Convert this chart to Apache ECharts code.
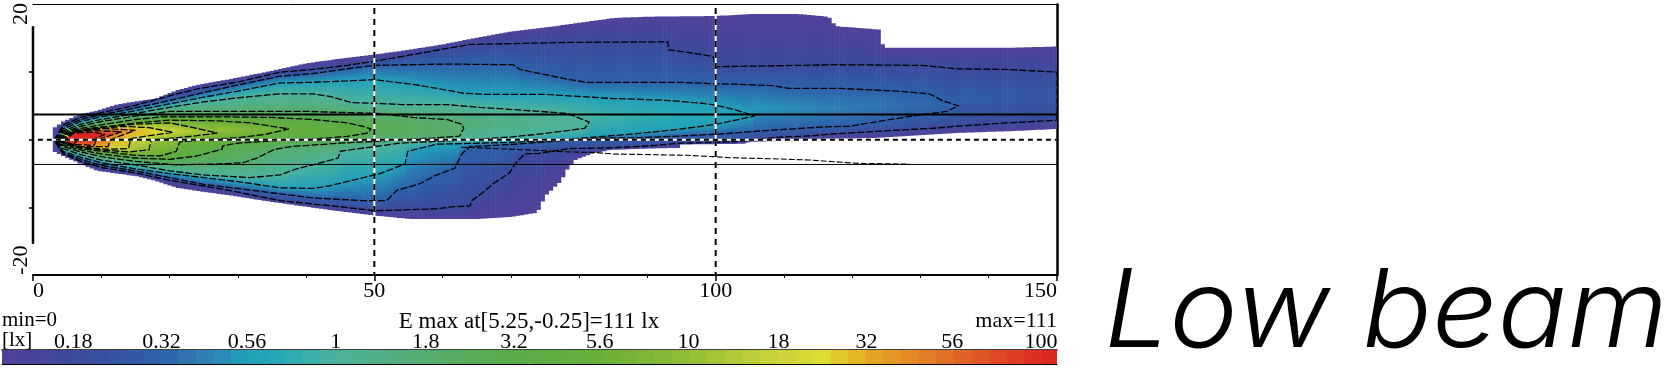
<!DOCTYPE html>
<html>
<head>
<meta charset="utf-8">
<style>html,body{margin:0;padding:0;background:#fff}#c{width:1670px;height:383px}</style>
<script src="https://cdn.jsdelivr.net/npm/echarts@6/dist/echarts.min.js"></script>
</head>
<body>
<div id="c"></div>
<script>
const xTickLabels = [0, 50, 100, 150];
const yTickLabels = ['20', '-20'];
const scaleLabels = ['0.18','0.32','0.56','1','1.8','3.2','5.6','10','18','32','56','100'];
const scaleValues = [0.18,0.32,0.56,1,1.8,3.2,5.6,10,18,32,56,100];
const scaleMin = 0.113, scaleMax = 111;
const colorValues = [0.113,0.18,0.32,0.42,0.56,0.7,1,1.8,3.2,5.6,10,18,24,32,56,100,111];
const colorHex = ['#50419a','#3c4a9c','#2e60a9','#2f7fb5','#22a0ba','#25a9b5','#4cb29c','#55ad6e','#5aab48','#68af38','#92bd36','#ccd43a','#dddc32','#e7aa24','#e06a26','#dd2a22','#dc2620'];

// boundary of the coloured area
const edgeTop = [[2.9,0],[3,1.7],[4.4,2.7],[7,3.8],[9.4,4.3],[12.3,5.2],[15.2,5.7],[18,6.1],[21,7.3],[24,8.1],[29,9],[34,10],[40,11.3],[45,12],[50,12.6],[55,13.3],[60,14.1],[65,15.1],[70,16],[75,16.6],[80,17.3],[85,18],[90,18.2],[100,18.3],[105,18.6],[112,18.6],[116.5,18.2],[117.5,16.8],[124,16.3],[124.5,13.6],[143,13.6],[150,13.8]];
const edgeBot = [[2.9,0],[3,-1.7],[4.4,-2.4],[7,-3.6],[9.4,-4.6],[12.3,-5],[15.2,-5.4],[18,-6.1],[21,-7.1],[25,-7.7],[30,-8.4],[35,-9.2],[40,-9.9],[45,-10.6],[50,-11.2],[55,-11.7],[65,-11.7],[70,-11.4],[73.8,-10.8],[75,-8.3],[77.3,-6.1],[78.3,-4.2],[79.5,-2.9],[82,-2],[84.5,-1.5],[90,-1.3],[94.5,-1.2],[95,-.7],[104,-.6],[105,-.3],[112.6,-.1],[114,.1],[123,.25],[135,1],[143.8,1.3],[150,1.6]];

// iso-lux contours: [distance, height]
const lx018Top = [[3.1,-.1],[4.4,2.2],[7,3.3],[10,4.0],[15,5.1],[20,6.5],[23.9,7.5],[30.3,8.6],[36.2,10],[41,10.4],[46,11],[50,11.6],[64,14.1],[78.6,14.4],[93,14.5],[93.1,13.3],[96.2,12.9],[99.6,12.3],[100,10.8],[117.9,11.1],[130.3,11],[135.3,10.5],[142.6,10.4],[150,10]];
const lx018Bot = [[3.1,-.1],[4.4,-2.1],[7,-3.2],[10,-4.1],[15,-4.9],[20,-6],[28.8,-7.5],[36.2,-9],[41,-9.5],[45,-9.9],[50,-10.5],[53.7,-10.4],[59.2,-10.2],[61.5,-9.9],[64,-9.8],[64.3,-9],[65.9,-7.8],[67.4,-6.5],[69.8,-4.9],[70.6,-3.6],[72,-2.1],[74.2,-2],[78.6,-1.3],[84.5,-1.2],[90.3,-.9],[94.7,-.5],[99.6,-.4],[103.8,-.2],[109.4,.4],[112.7,.5],[117,.85],[124.5,1.3],[131.8,1.7],[135.3,2],[142,2.45],[150,2.9]];
const lx032Top = [[3.2,-.1],[4.4,1.9],[7,3],[10,3.7],[15,4.7],[20,5.8],[25,7],[30,8.1],[36.2,9.4],[41,9.8],[46,10.5],[50,11],[60.6,11.2],[70.3,11.1],[71.3,10.4],[78.6,8.9],[81.1,8.5],[94.7,8.5],[99.6,8.3],[103.5,8.2],[108.3,8],[110.8,7.6],[118.2,7.6],[126.5,7.2],[131.3,6.8],[133.2,5.8],[135.6,5]];
const lx032Bot = [[3.2,-.1],[4.4,-1.9],[7,-2.9],[10,-3.8],[15,-4.6],[20,-5.6],[25,-6.6],[30,-7.2],[36.2,-8],[41,-8.6],[48.3,-9],[51.8,-9],[53.3,-7.5],[56.7,-6.5],[58.9,-5.3],[61.8,-4.2],[62.8,-2.1],[64,-1],[70,-.7],[78.6,-.05],[83,.25],[88.9,.3],[94.7,.55],[100.6,.85],[107.9,1.4],[115.7,1.9],[119.6,2],[125,2.9],[129.4,3.6],[132.4,4],[133.8,4.2],[135.6,5]];
const lx056Top = [[3.3,-.1],[4.4,1.6],[7,2.7],[10,3.4],[15,4.3],[20,5.3],[25,6.3],[30,7.2],[36.2,8.4],[41,8.5],[46,8.7],[50,8.9],[52.3,8.6],[55.6,8.2],[59.2,7.6],[63,6.9],[66.5,6.7],[75.3,6.7],[80,6.4],[84.9,6.1],[88.4,6],[93.3,5.8],[98,5.4],[100.1,5.1],[103,4.4],[105.7,3.5]];
const lx056Bot = [[3.3,-.1],[4.4,-1.7],[7,-2.6],[10,-3.4],[15,-4.3],[20,-5],[25,-5.6],[30,-6.2],[36.2,-7.1],[41,-7.2],[43.5,-6.8],[50.8,-5],[54.5,-3.6],[54.9,-1.7],[59.2,-.65],[70,-.4],[78.6,.1],[83.5,.5],[88.4,.9],[93.3,1.4],[98,2],[100.1,2.3],[105.7,3.5]];
const lx1Top = [[3.4,-.1],[4.4,1.3],[7,2.3],[10,3],[15,3.9],[20,4.8],[25,5.6],[30,6.2],[36.2,6.8],[41,6.8],[43.5,6.4],[46.7,5.5],[50,5.4],[54.2,5.2],[60.6,5.2],[65.4,4.8],[74.2,4.2],[78.2,3.9],[79.5,3.4],[81.5,2.6]];
const lx1Bot = [[3.4,-.1],[4.4,-1.3],[7,-2.2],[10,-3],[15,-3.7],[20,-4.6],[25,-5.2],[31.8,-5.6],[36.2,-5.2],[38.6,-4.3],[41,-3.7],[44.7,-2.7],[45,-1.7],[53.7,-.5],[60,-.2],[65.4,.1],[69.8,.4],[74.2,.85],[78.6,1.4],[80.8,1.7],[81.5,2.6]];
const lx1_8Top = [[3.5,-.1],[4.4,1.1],[7,2],[10,2.7],[15,3.5],[20,4.2],[36.2,4.2],[40,4.2],[50.4,3.9],[55.6,3.3],[60.6,3],[62.8,2.3],[63.1,1.7]];
const lx1_8Bot = [[3.5,-.1],[4.4,-1],[7,-1.8],[10,-2.5],[15,-3.2],[21,-3.7],[26.5,-3.6],[30.7,-3.4],[32.8,-2.7],[35.4,-1.4],[38,-1],[45,-.5],[50.8,-.2],[53.3,0],[58.6,.25],[62.5,.55],[63.1,1.7]];
const lx3_2Top = [[3.6,-.1],[4.4,.9],[7,1.7],[10,2.2],[15,3],[19,3.4],[27.5,3.4],[35,3.3],[41,3],[46,2.5],[48.3,2],[49.5,1.6]];
const lx3_2Bot = [[3.6,-.1],[4.4,-.8],[7,-1.5],[10,-2.1],[15,-2.7],[20,-2.9],[24,-2.4],[27.7,-1.4],[27.8,-.9],[30,-.5],[36,-.1],[41,.1],[46,.5],[49,1],[49.5,1.6]];
const lx5_6Top = [[3.7,-.1],[4.6,.8],[7,1.4],[10,1.8],[15,2.5],[20,2.9],[27,2.8],[31.8,2.5],[37.5,1.6]];
const lx5_6Bot = [[3.7,-.1],[4.6,-.6],[7,-1.3],[10,-1.7],[15,-2.3],[18.6,-2.4],[21,-1.7],[21.5,-.3],[25,0],[30,.3],[34,.8],[37.5,1.6]];
const lx10Top = [[3.8,-.1],[4.8,.9],[7,1.5],[10,1.9],[15,2.3],[20,2.5],[23,1.9],[27,1]];
const lx10Bot = [[3.8,-.1],[4.8,-.6],[7,-1.2],[10,-1.5],[14,-1.8],[17,-1.5],[17.3,0],[20,.2],[24,.6],[27,1]];
const lx18Top = [[3.9,-.1],[5,.8],[7,1.3],[10,1.6],[13,2],[17,1.8],[20.5,1.1]];
const lx18Bot = [[3.9,-.1],[5,-.6],[7,-1.1],[11,-1.4],[14,-1.3],[14.3,.15],[17,.6],[20.5,1.1]];
const lx32Top = [[4,-.1],[5.1,.6],[6,1.2],[8,1.5],[10,1.7],[15,1.4]];
const lx32Bot = [[4,-.1],[5.1,-.5],[7,-1],[11,-1],[11.3,-.1],[12,.3],[15,1.4]];
const lx56Top = [[4.1,-.1],[5.2,.5],[6,1.1],[9,1.35],[13,1.2]];
const lx56Bot = [[4.1,-.1],[5.2,-.4],[5.5,-.7],[9,-.8],[9.2,-.1],[10,.2],[13,1.2]];
const lx100Top = [[4.2,-.2],[5,.2],[6,1],[9,1.1],[10.5,.8]];
const lx100Bot = [[4.2,-.2],[4.5,-.6],[6,-.6],[6.5,-.1],[9,.1],[10.5,.8]];
// the lowest contour, running on over the white area
const lowContour = [[62.7,-1.1],[70.3,-1.4],[78.6,-1.8],[82.6,-1.9],[84.9,-2.1],[95.8,-2.3],[99.6,-2.5],[102,-2.65],[107.9,-2.8],[113.8,-3],[121,-3.5],[128.4,-3.6]];

const contourLevels = [0.18,0.32,0.56,1,1.8,3.2,5.6,10,18,32,56,100];
const contourTops = [lx018Top,lx032Top,lx056Top,lx1Top,lx1_8Top,lx3_2Top,lx5_6Top,lx10Top,lx18Top,lx32Top,lx56Top,lx100Top];
const contourBots = [lx018Bot,lx032Bot,lx056Bot,lx1Bot,lx1_8Bot,lx3_2Bot,lx5_6Bot,lx10Bot,lx18Bot,lx32Bot,lx56Bot,lx100Bot];
const edgeLevel = 0.113;
const refLinesUpper = 3.75, refLinesLower = -3.65;

// ---- drawing ----
const serif = '"Liberation Serif", serif';
const logColorValues = colorValues.map(Math.log10);
const rgb = colorHex.map(h => [1,3,5].map(i => parseInt(h.substr(i,2),16)));
function colorAt(lx){
  const v = Math.log10(lx);
  let i = 0;
  while (i < logColorValues.length-2 && v > logColorValues[i+1]) i++;
  const t = Math.max(0, Math.min(1,(v-logColorValues[i])/(logColorValues[i+1]-logColorValues[i])));
  const c = rgb[i].map((a,k)=>Math.round(a+(rgb[i+1][k]-a)*t));
  return 'rgb('+c.join(',')+')';
}
function at(line, x){
  for (let i=0;i<line.length-1;i++){
    const a=line[i], b=line[i+1];
    if (x>=a[0] && x<=b[0]) return b[0]===a[0] ? a[1] : a[1]+(b[1]-a[1])*(x-a[0])/(b[0]-a[0]);
  }
  return null;
}
const colStep = 0.6;
const columns = [];
for (let x=2.9; x<150; x+=colStep) columns.push([x]);

function columnStops(x){
  const t=at(edgeTop,x+colStep/2), b=at(edgeBot,x+colStep/2);
  if (t===null||b===null) return null;
  const X=x+colStep/2, pts=[[t,edgeLevel],[b,edgeLevel]];
  let last=-1;
  contourLevels.forEach((lv,i)=>{
    const ct=at(contourTops[i],X), cb=at(contourBots[i],X);
    if(ct!==null&&cb!==null){pts.push([ct,lv],[cb,lv]);last=i;}
  });
  if(last>=0){
    const line=contourTops[last];
    let end=line[line.length-1][0];
    if(end>=150) end=178;
    const gain=Math.min(0.225,2*Math.log10(end/X));
    pts.push([(at(contourTops[last],X)+at(contourBots[last],X))/2,contourLevels[last]*Math.pow(10,Math.max(0,gain))]);
  } else {
    pts.push([(t+b)/2,edgeLevel*1.4]);
  }
  pts.sort((p,q)=>q[0]-p[0]);
  const stops=pts.map(p=>({offset:Math.max(0,Math.min(1,(t-p[0])/(t-b))),color:colorAt(p[1])}));
  return {t,b,stops};
}

const contourSeries = contourLevels.map((lv,i)=>({
  type:'line',silent:true,showSymbol:false,symbol:'none',animation:false,z:3,
  data:contourTops[i].concat(contourBots[i].slice().reverse()),
  lineStyle:{color:'#000',width:1.3,type:[7,2]}
}));
function plainLine(data,color,width,type,z,clip){
  return {type:'line',silent:true,showSymbol:false,symbol:'none',animation:false,clip:clip!==false,z,data,
    lineStyle:{color,width,type:type||'solid'}};
}

const barMinLog=Math.log10(scaleMin), barMaxLog=Math.log10(scaleMax);
const barCells=[];
const barWidth=0.05;
for(let v=barMinLog;v<barMaxLog;v+=barWidth) barCells.push([v]);

const plain={fontFamily:serif,fontSize:21,fontWeight:'normal',color:'#000'};
const option={
  animation:false,
  backgroundColor:'#fff',
  title:[
    {text:'min=0',left:2,top:310,padding:0,textStyle:plain},
    {text:'E max at[5.25,-0.25]=111 lx',left:529,textAlign:'center',top:310,padding:0,textStyle:{...plain,fontSize:23}},
    {text:'max=111',right:613,top:310,padding:0,textStyle:{...plain,fontSize:22}},
    {text:'[lx]',left:2,top:330,padding:0,textStyle:plain}
  ],
  graphic:[
    {type:'text',x:1104,y:261,scaleX:1.07,silent:true,
     style:{text:'Low beam',fontFamily:'Inter',fontSize:108,fontStyle:'italic',fontWeight:300,fill:'#000'}}
  ],
  grid:[
    {left:33,top:1.5,width:1024,height:273.5},
    {left:2,top:350,width:1055,height:14}
  ],
  xAxis:[
    {type:'value',gridIndex:0,min:0,max:150,interval:50,position:'bottom',
      axisLine:{onZero:false,lineStyle:{color:'#000',width:2}},
      axisTick:{show:true,length:6,lineStyle:{color:'#000',width:1.5}},
      minorTick:{show:true,splitNumber:5,length:3,lineStyle:{color:'#000',width:1}},
      splitLine:{show:false},
      axisLabel:{color:'#000',fontFamily:serif,fontSize:22,margin:5,alignMinLabel:'left',alignMaxLabel:'right',
        customValues:xTickLabels}},
    {type:'value',gridIndex:0,min:0,max:150,position:'top',
      axisLine:{onZero:false,lineStyle:{color:'#000',width:1}},axisTick:{show:false},axisLabel:{show:false},splitLine:{show:false}},
    {type:'value',gridIndex:1,min:barMinLog,max:barMaxLog,position:'top',
      axisLine:{onZero:false,lineStyle:{color:'#000',width:1.5}},
      axisTick:{show:true,inside:true,length:14,customValues:scaleValues.map(Math.log10),lineStyle:{color:'#000',width:1.5}},
      axisLabel:{color:'#000',fontFamily:serif,fontSize:22,margin:-3,customValues:scaleValues.map(Math.log10),
        formatter:v=>{let k=0,d=1e9;scaleValues.forEach((s,i)=>{const e=Math.abs(Math.log10(s)-v);if(e<d){d=e;k=i;}});return scaleLabels[k];}},
      splitLine:{show:false}},
    {type:'value',gridIndex:1,min:barMinLog,max:barMaxLog,position:'bottom',
      axisLine:{onZero:false,lineStyle:{color:'#000',width:1}},axisTick:{show:false},axisLabel:{show:false},splitLine:{show:false}}
  ],
  yAxis:[
    {type:'value',gridIndex:0,min:-20,max:20,interval:10,position:'left',
      axisLine:{show:false},
      axisTick:{show:true,length:4,customValues:[-10,0,10],lineStyle:{color:'#000',width:1.5}},
      axisLabel:{color:'#000',fontFamily:serif,fontSize:22,rotate:90,margin:1,customValues:[18.6,-17.8],
        formatter:v=>v>0?yTickLabels[0]:yTickLabels[1]},
      splitLine:{show:false}},
    {type:'value',gridIndex:0,min:-20,max:20,position:'right',
      axisLine:{onZero:false,show:true,lineStyle:{color:'#000',width:2.5}},axisTick:{show:false},axisLabel:{show:false},splitLine:{show:false}},
    {type:'value',gridIndex:1,min:0,max:1,show:false}
  ],
  series:[
    {type:'custom',silent:true,animation:false,xAxisIndex:0,yAxisIndex:0,z:1,clip:true,data:columns,encode:{x:0},
      renderItem:(p,api)=>{
        const x=api.value(0), s=columnStops(x);
        if(!s) return null;
        const a=api.coord([x,s.t]), b=api.coord([x+colStep,s.b]);
        return {type:'rect',shape:{x:a[0],y:a[1],width:b[0]-a[0]+0.6,height:b[1]-a[1]},
          style:{fill:new echarts.graphic.LinearGradient(0,0,0,1,s.stops)}};
      }},
    ...contourSeries,
    plainLine(lowContour,'#000',1.1,[6,2],3),
    // axis spine, reference lines
    plainLine([[0,16.8],[0,-15.4]],'#000',2.5,'solid',5,false),
    plainLine([[0,refLinesUpper],[150,refLinesUpper]],'#000',2,'solid',4),
    plainLine([[0,refLinesLower],[150,refLinesLower]],'#000',1,'solid',4),
    plainLine([[-0.6,0],[150,0]],'#fff',2,'solid',4,false),
    plainLine([[-0.6,0],[150,0]],'#000',2,[5,4],5,false),
    plainLine([[50,19.5],[50,-20]],'#fff',2,'solid',4),
    plainLine([[50,19.5],[50,-20]],'#000',2,[6,5],5),
    plainLine([[100,19.5],[100,-20]],'#fff',2,'solid',4),
    plainLine([[100,19.5],[100,-20]],'#000',2,[6,5],5),
    {type:'custom',silent:true,animation:false,xAxisIndex:2,yAxisIndex:2,z:1,clip:true,data:barCells,encode:{x:0},
      renderItem:(p,api)=>{
        const v=api.value(0), end=Math.min(v+barWidth,barMaxLog);
        const a=api.coord([v,1]), b=api.coord([end,0]);
        return {type:'rect',shape:{x:a[0],y:a[1],width:b[0]-a[0]+(end<barMaxLog?0.7:0),height:b[1]-a[1]},
          style:{fill:colorAt(Math.pow(10,v+barWidth/2))}};
      }}
  ]
};
const chart=echarts.init(document.getElementById('c'),null,{renderer:'canvas'});
chart.setOption(option);
</script>
</body>
</html>
